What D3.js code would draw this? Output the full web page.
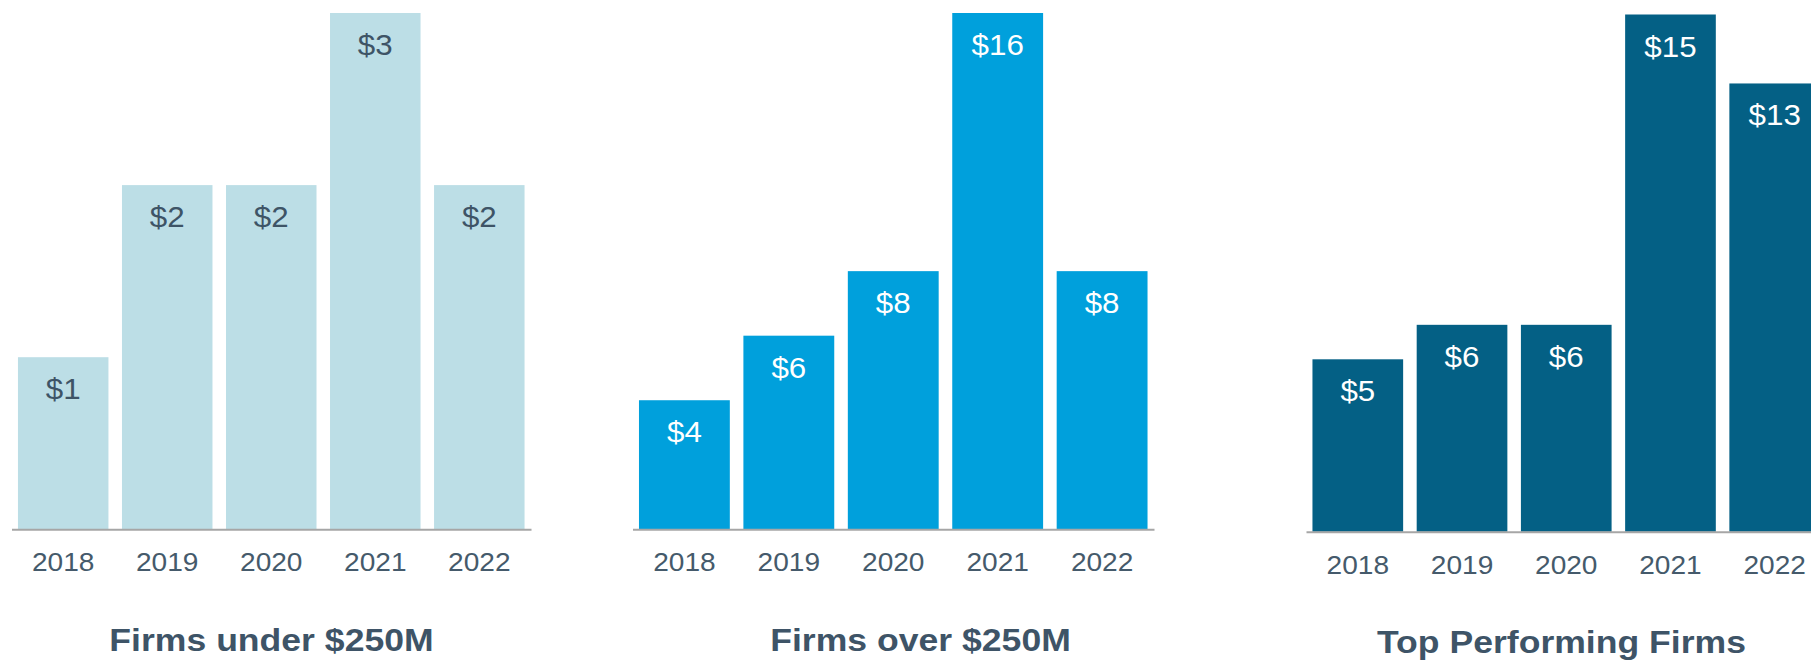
<!DOCTYPE html>
<html>
<head>
<meta charset="utf-8">
<script src="https://cdn.jsdelivr.net/npm/d3@7"></script>
<style>
  html, body { margin: 0; padding: 0; background: #ffffff; }
  svg { display: block; }
  text { font-family: "Liberation Sans", Arial, Helvetica, sans-serif; }
</style>
</head>
<body>
<svg id="chart" width="1811" height="664"></svg>
<script>
// Values in $ (millions) per year, one array per firm group
const years = ["2018", "2019", "2020", "2021", "2022"];
const firmsUnder250 = [1, 2, 2, 3, 2];
const firmsOver250 = [4, 6, 8, 16, 8];
const topPerforming = [5, 6, 6, 15, 13];
const panelTitles = ["Firms under $250M", "Firms over $250M", "Top Performing Firms"];

// Layout and styling for each small-multiple panel
const panels = [
  { values: firmsUnder250, title: panelTitles[0], fill: "#BCDEE6", labelFill: "#3E5466",
    x0: 11.5, x1: 531, top: 13, base: 529.3, titleX: 271.5, titleY: 651 },
  { values: firmsOver250, title: panelTitles[1], fill: "#00A0DC", labelFill: "#FFFFFF",
    x0: 632.5, x1: 1154, top: 13, base: 529.3, titleX: 920.5, titleY: 651 },
  { values: topPerforming, title: panelTitles[2], fill: "#046085", labelFill: "#FFFFFF",
    x0: 1306, x1: 1826.5, top: 14.5, base: 531.7, titleX: 1561.5, titleY: 653 }
];

const svg = d3.select("#chart");
const fmt = v => "$" + v;

panels.forEach(p => {
  const g = svg.append("g");

  const x = d3.scaleBand()
    .domain(years)
    .range([p.x0, p.x1])
    .paddingInner(0.13)
    .paddingOuter(0.062);

  const y = d3.scaleLinear()
    .domain([0, d3.max(p.values)])
    .range([p.base, p.top]);

  const rows = years.map((yr, i) => ({ year: yr, value: p.values[i] }));

  // bars
  g.selectAll("rect.bar")
    .data(rows)
    .join("rect")
    .attr("class", "bar")
    .attr("x", d => x(d.year))
    .attr("width", x.bandwidth())
    .attr("y", d => y(d.value))
    .attr("height", d => y(0) - y(d.value))
    .attr("fill", p.fill);

  // value labels inside the top of each bar
  g.selectAll("text.value")
    .data(rows)
    .join("text")
    .attr("class", "value")
    .attr("transform", d => `translate(${x(d.year) + x.bandwidth() / 2},${y(d.value) + 42}) scale(1.08,1)`)
    .attr("text-anchor", "middle")
    .attr("font-size", 29)
    .attr("fill", p.labelFill)
    .text(d => fmt(d.value));

  // category axis along the baseline
  const axis = g.append("g")
    .attr("transform", `translate(0,${p.base})`)
    .call(d3.axisBottom(x).tickSize(0).tickSizeOuter(0));

  axis.select(".domain")
    .attr("stroke", "#A6A6A6")
    .attr("stroke-width", 2);

  axis.selectAll(".tick text")
    .attr("y", 0)
    .attr("dy", 0)
    .attr("transform", "translate(0,42) scale(1.08,1)")
    .attr("font-size", 26)
    .attr("font-family", "\"Liberation Sans\", Arial, sans-serif")
    .attr("fill", "#455A6B");

  // panel title
  g.append("text")
    .attr("transform", `translate(${p.titleX},${p.titleY}) scale(1.13,1)`)
    .attr("text-anchor", "middle")
    .attr("font-size", 31.5)
    .attr("font-weight", "bold")
    .attr("fill", "#3E5467")
    .text(p.title);
});
</script>
</body>
</html>
